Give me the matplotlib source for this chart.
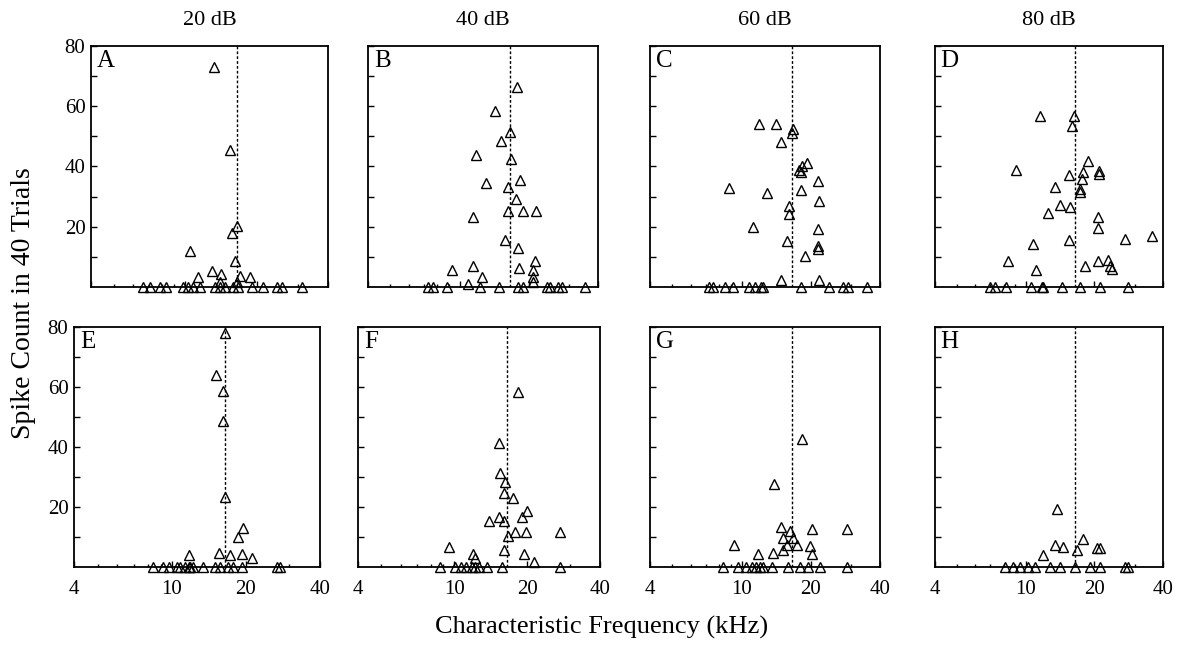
import matplotlib
matplotlib.use("Agg")
import matplotlib.pyplot as plt
from matplotlib.ticker import FixedLocator, NullFormatter, FixedFormatter

plt.rcParams['font.family'] = ['Liberation Serif', 'DejaVu Serif']

# ===========================================
# data (CF in kHz, spike count in 40 trials)
# ===========================================

levels = ["20 dB", "40 dB", "60 dB", "80 dB"]
panel_letters = ["A", "B", "C", "D", "E", "F", "G", "H"]
bf_khz = 16.5

a_khz = [13.2, 15.4, 16.5, 15.7, 10.5, 16.2, 13.0, 14.2, 17.0, 18.8, 11.3, 14.0, 16.5,
         6.65, 7.1, 7.8, 8.3, 9.8, 10.3, 10.8, 11.5, 13.3, 14.0, 14.7, 15.9, 16.7, 19.1,
         21.3, 24.3, 25.5, 31.0]
a_cnt = [73, 45.5, 20.2, 18, 12, 8.7, 5.4, 4.3, 3.7, 3.2, 3.2, 1.5, 1.5,
         0, 0, 0, 0, 0, 0, 0, 0, 0, 0, 0, 0, 0, 0, 0, 0, 0, 0]

b_khz = [17.8, 14.2, 16.6, 15.1, 11.8, 16.7, 13.0, 18.3, 16.3, 17.6, 16.2, 18.8, 21.6,
         11.4, 15.7, 17.9, 9.25, 11.4, 18.2, 21.3, 20.8, 12.5, 20.8, 10.9, 20.9,
         7.3, 7.7, 8.8, 12.3, 14.9, 18.0, 18.9, 24.0, 24.7, 26.9, 27.8, 35.1]
b_cnt = [66.3, 58.3, 51.4, 48.3, 43.7, 42.6, 34.4, 35.6, 33.3, 29.2, 25.2, 25.2, 25.2,
         23.3, 15.6, 12.8, 5.6, 7.0, 6.3, 8.6, 5.6, 3.3, 3.3, 1.1, 1.7,
         0, 0, 0, 0, 0, 0, 0, 0, 0, 0, 0, 0]

c_khz = [11.9, 14.1, 16.7, 16.5, 14.9, 19.2, 18.4, 17.8, 18.1, 8.8, 21.6, 12.9, 18.1,
         21.7, 16.1, 16.1, 11.2, 21.5, 15.7, 21.4, 21.4, 18.9, 14.9, 21.7,
         7.2, 7.5, 8.5, 9.2, 10.8, 11.4, 12.2, 12.4, 18.1, 24.1, 27.7, 29.1, 35.1]
c_cnt = [54.1, 54.1, 52.5, 51.1, 48.1, 41.2, 40.1, 38.7, 38.1, 33.0, 35.2, 31.3, 32.1,
         28.4, 26.9, 24.2, 20.0, 19.2, 15.4, 13.7, 12.6, 10.4, 2.4, 2.4,
         0, 0, 0, 0, 0, 0, 0, 0, 0, 0, 0, 0, 0]

d_khz = [11.5, 16.3, 15.9, 9.1, 18.8, 17.9, 21.0, 21.0, 15.5, 17.6, 13.5, 17.3, 17.3,
         14.2, 15.6, 12.5, 20.7, 20.7, 10.8, 15.5, 8.4, 11.1, 18.2, 20.8, 23.0, 27.2,
         35.8, 23.4, 24.0,
         7.0, 7.3, 8.2, 10.5, 11.8, 11.9, 14.4, 17.3, 21.2, 28.1]
d_cnt = [56.9, 56.6, 53.6, 38.8, 41.8, 38.2, 38.5, 37.4, 37.1, 36.0, 33.3, 32.5, 31.6,
         27.3, 26.7, 24.5, 23.4, 19.6, 14.3, 15.7, 8.6, 5.8, 6.9, 8.6, 9.1, 16,
         17, 7, 6,
         0, 0, 0, 0, 0, 0, 0, 0, 0, 0]

e_khz = [16.4, 15.1, 16.2, 16.1, 16.4, 19.4, 18.6, 15.5, 17.2, 19.2, 21.1, 11.7,
         8.4, 9.2, 9.7, 10.5, 10.8, 11.3, 11.7, 11.9, 12.2, 13.4, 15.0, 15.7, 16.9,
         17.8, 19.2, 26.7, 27.5]
e_cnt = [77.9, 64.0, 58.7, 48.7, 23.4, 12.9, 10.1, 4.6, 4.0, 4.3, 3.0, 4.0,
         0, 0, 0, 0, 0, 0, 0, 0, 0, 0, 0, 0, 0, 0, 0, 0, 0]

f_khz = [18.4, 15.3, 15.4, 16.2, 16.0, 17.5, 19.9, 19.0, 13.9, 15.3, 16.0, 16.7, 17.8,
         19.8, 27.4, 9.5, 16.0, 19.5, 11.9, 21.3, 12.2,
         8.7, 10.1, 10.7, 11.2, 11.8, 12.2, 12.6, 13.6, 15.7, 27.4]
f_cnt = [58.4, 41.5, 31.4, 28.4, 24.6, 22.9, 18.8, 16.6, 15.5, 16.6, 15.5, 10.5, 11.6,
         11.6, 11.6, 6.7, 5.6, 4.5, 4.5, 1.7, 3.0,
         0, 0, 0, 0, 0, 0, 0, 0, 0, 0]

g_khz = [18.4, 13.8, 14.9, 16.2, 20.3, 28.8, 15.1, 16.8, 15.7, 17.5, 19.8, 9.3, 15.2,
         13.7, 20.2, 11.8,
         8.3, 9.7, 10.5, 11.1, 11.6, 12.0, 12.4, 13.5, 16.0, 18.0, 19.5, 21.9, 28.8]
g_cnt = [42.6, 27.6, 13.5, 11.9, 12.6, 12.6, 9.7, 9.7, 7.5, 7.5, 6.9, 7.5, 5.8,
         4.7, 4.2, 4.2,
         0, 0, 0, 0, 0, 0, 0, 0, 0, 0, 0, 0, 0]

h_khz = [13.7, 13.4, 14.6, 17.8, 16.7, 20.5, 21.2, 11.9,
         8.1, 8.8, 9.4, 10.2, 11.0, 12.8, 14.1, 16.4, 19.1, 21.2, 27.3, 28.1]
h_cnt = [19.4, 7.3, 6.7, 9.5, 5.6, 6.2, 6.2, 4.0,
         0, 0, 0, 0, 0, 0, 0, 0, 0, 0, 0, 0]

panels_khz = [a_khz, b_khz, c_khz, d_khz, e_khz, f_khz, g_khz, h_khz]
panels_cnt = [a_cnt, b_cnt, c_cnt, d_cnt, e_cnt, f_cnt, g_cnt, h_cnt]

# ===========================================
# layout (pixel boxes of the scanned panels)
# ===========================================
W, H = 1182, 649
col_px = [(91, 328), (368, 598), (650, 880), (935, 1163),
          (74, 320), (358, 600), (650, 880), (935, 1163)]
row_px = [(46, 287), (327, 567)]

fig = plt.figure(figsize=(W / 100, H / 100), dpi=100)

for i in range(8):
    row = i // 4
    col = i % 4
    x0, x1 = col_px[i]
    top, bot = row_px[row]
    ax = fig.add_axes([x0 / W, 1 - bot / H, (x1 - x0) / W, (bot - top) / H])

    ax.plot(panels_khz[i], panels_cnt[i], linestyle="none", marker="^",
            markersize=7.5, markerfacecolor="none", markeredgecolor="black",
            markeredgewidth=1.0, clip_on=False, zorder=3)
    ax.axvline(bf_khz, color="black", linestyle=(0, (2, 1.5)), linewidth=1.0)

    ax.set_xscale("log")
    ax.set_xlim(4, 40)
    ax.set_ylim(0, 80)

    ax.xaxis.set_major_locator(FixedLocator([4, 10, 20, 40]))
    ax.xaxis.set_minor_locator(FixedLocator([5, 6, 7, 8, 9, 30]))
    ax.xaxis.set_minor_formatter(NullFormatter())
    ax.yaxis.set_major_locator(FixedLocator([20, 40, 60, 80]))
    ax.yaxis.set_minor_locator(FixedLocator([10, 30, 50, 70]))

    if row == 1:
        ax.xaxis.set_major_formatter(FixedFormatter(["4", "10", "20", "40"]))
    else:
        ax.xaxis.set_major_formatter(NullFormatter())
    if col == 0:
        ax.yaxis.set_major_formatter(FixedFormatter(["20", "40", "60", "80"]))
    else:
        ax.yaxis.set_major_formatter(NullFormatter())

    ax.tick_params(which="both", direction="in", length=4, width=1.0,
                   labelsize=15)
    ax.tick_params(axis="x", pad=9)
    ax.tick_params(axis="y", pad=4)
    ax.tick_params(axis="x", which="minor", length=2.5)
    for s in ax.spines.values():
        s.set_linewidth(1.3)

    ax.text(0.025, 0.985, panel_letters[i], transform=ax.transAxes,
            ha="left", va="top", fontsize=18)

    if row == 0:
        ax.set_title(levels[col], fontsize=16, pad=15)

fig.text(24 / W, 1 - 303 / H, "Spike Count in 40 Trials", rotation=90,
         ha="center", va="center", fontsize=20)
fig.text(602 / W, 1 - 627 / H, "Characteristic Frequency (kHz)",
         ha="center", va="center", fontsize=19)

fig.savefig("out.png", dpi=100)
